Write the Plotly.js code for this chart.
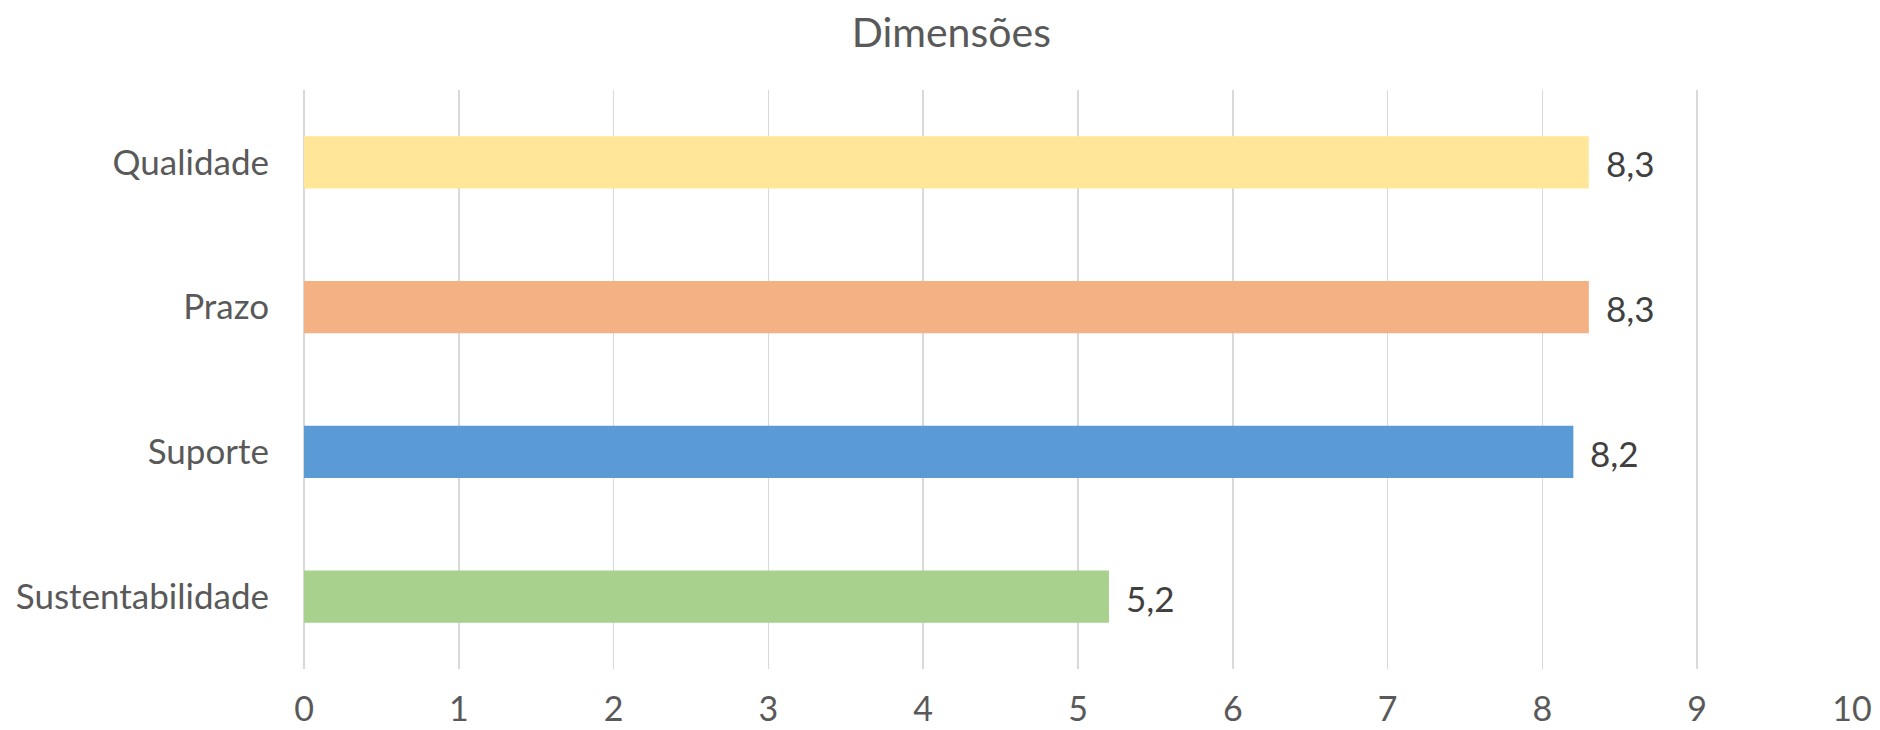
<!DOCTYPE html>
<html>
<head>
<meta charset="utf-8">
<script src="https://cdn.plot.ly/plotly-3.0.1.min.js"></script>
<style>html,body{margin:0;padding:0;background:#fff;}#chart{width:1880px;height:730px;}</style>
</head>
<body>
<div id="chart"></div>
<script>
const categories = ["Qualidade", "Prazo", "Suporte", "Sustentabilidade"];
const values = [8.3, 8.3, 8.2, 5.2];
const barColors = ["#FFE699", "#F4B183", "#5B9BD5", "#A9D18E"];
const xTicks = [0, 1, 2, 3, 4, 5, 6, 7, 8, 9, 10];
const chartTitle = "Dimensões";

const FONT = "Lato, 'Open Sans', sans-serif";
const TXT = "#595959";

const trace = {
  type: "bar",
  orientation: "h",
  y: categories,
  x: values,
  width: 0.36,
  marker: { color: barColors, line: { width: 0 } },
  hoverinfo: "skip",
  showlegend: false
};

const annotations = values.map((v, i) => ({
  x: v, y: categories[i], xref: "x", yref: "y",
  text: v.toFixed(1).replace(".", ","),
  showarrow: false, xanchor: "left", yanchor: "middle", xshift: 15, yshift: -1,
  font: { family: FONT, size: 35, color: "#404040" }
}));

const layout = {
  width: 1880, height: 730,
  margin: { l: 304, r: 28, t: 90, b: 61, pad: 0 },
  paper_bgcolor: "#ffffff", plot_bgcolor: "#ffffff",
  separators: ",.",
  title: {
    text: chartTitle, x: 0.506, xanchor: "center",
    y: 1 - 33 / 730, yref: "container", yanchor: "middle",
    font: { family: FONT, size: 41, color: TXT }
  },
  xaxis: {
    range: [0, 10], tickvals: xTicks, ticktext: xTicks.map(String),
    showgrid: true, gridcolor: "#D9D9D9", gridwidth: 1.5,
    zeroline: true, zerolinecolor: "#D9D9D9", zerolinewidth: 1.5,
    showline: false, ticks: "", ticklabelstandoff: 17,
    tickfont: { family: FONT, size: 34, color: TXT },
    fixedrange: true
  },
  yaxis: {
    type: "category", autorange: "reversed",
    showgrid: false, zeroline: false, showline: false, ticks: "",
    ticklabelstandoff: 34,
    tickfont: { family: FONT, size: 35, color: TXT },
    fixedrange: true
  },
  annotations: annotations,
  bargap: 0.64
};

Plotly.newPlot("chart", [trace], layout, { displayModeBar: false, staticPlot: true });
</script>
</body>
</html>
